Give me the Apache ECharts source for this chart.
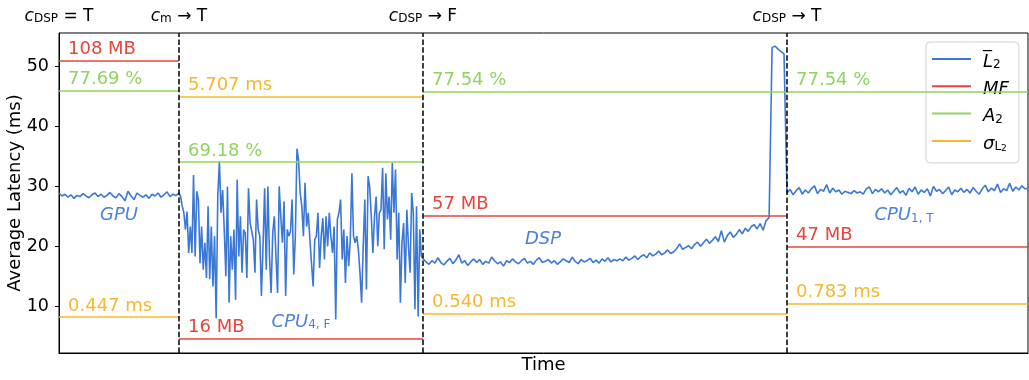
<!DOCTYPE html>
<html>
<head>
<meta charset="utf-8">
<script src="https://cdn.jsdelivr.net/npm/echarts@6/dist/echarts.min.js"></script>
<style>
  html, body { margin: 0; background: #fff; }
  #chart { width: 1029px; height: 380px; }
</style>
</head>
<body>
<div id="chart"></div>
<script>
// change points on the time axis (start of each phase, then end of run)
const boundaries = [0, 120, 364, 728, 969];
const changeLabels = [
  "{c|c}{s|DSP}{t| = T}",
  "{c|c}{s|m}{t| → T}",
  "{c|c}{s|DSP}{t| → F}",
  "{c|c}{s|DSP}{t| → T}",
];

// average latency per phase (ms)
const gpuLatency = [
  28.9, 28.4, 28.7, 28.2, 28.6, 28.0, 28.5, 28.3, 28.8, 28.4, 28.1, 28.6, 28.9, 28.3, 28.7, 28.2,
  28.5, 29.0, 28.4, 28.1, 28.8, 28.3, 27.6, 29.2, 28.4, 27.8, 28.9, 28.5, 28.2, 28.6, 28.0, 28.7,
  28.4, 28.9, 28.2, 28.6, 29.1, 28.3, 28.7, 28.5,
];
const cpu4Latency = [
  28.9, 28.3, 26.7, 25.6, 22.8, 25.8, 18.9, 23.3, 18.9, 31.9, 18.3, 29.2, 27.8, 17.2, 23.3, 16.1,
  20.6, 14.7, 26.7, 14.5, 23.3, 13.3, 21.7, 8.0, 28.3, 34.2, 25.6, 29.4, 22.8, 15.0, 30.0, 10.6,
  21.7, 16.1, 22.8, 11.1, 31.1, 18.3, 25.0, 15.6, 22.8, 22.2, 14.7, 29.7, 23.9, 23.9, 21.1, 15.6,
  27.8, 22.8, 21.7, 11.7, 20.0, 29.7, 16.1, 30.0, 18.3, 12.2, 22.2, 25.0, 18.3, 12.2, 30.0, 25.0,
  20.6, 27.5, 11.7, 22.8, 21.7, 22.5, 27.8, 15.3, 21.7, 36.3, 34.4, 28.9, 26.7, 21.7, 30.6, 23.3,
  25.6, 21.1, 21.1, 13.3, 21.1, 21.7, 25.6, 16.4, 21.7, 24.7, 17.8, 25.0, 20.0, 25.6, 21.7, 18.9,
  23.3, 7.8, 24.5, 25.6, 27.8, 17.8, 22.8, 13.9, 21.7, 16.7, 21.1, 32.2, 21.7, 20.6, 21.7, 19.5,
  15.6, 10.6, 20.0, 27.8, 12.8, 31.7, 30.0, 25.0, 18.9, 25.0, 28.3, 20.0, 25.6, 26.1, 33.1, 19.5,
  32.2, 24.5, 28.3, 21.1, 33.9, 25.6, 32.8, 17.8, 25.6, 10.6, 20.6, 23.9, 13.9, 26.1, 20.0, 15.6,
  28.9, 25.6, 9.5, 26.7, 8.3, 22.8, 18.3,
];
const dspLatency = [
  18.3, 17.4, 17.0, 17.6, 17.2, 18.1, 17.3, 16.9, 17.5, 18.0, 17.1, 17.7, 18.6, 17.2, 17.6, 16.8,
  17.4, 17.9, 17.3, 17.8, 17.0, 17.5, 17.2, 18.2, 17.6, 17.1, 17.4, 16.7, 17.6, 17.3, 17.9, 17.4,
  17.1, 17.6, 18.0, 17.2, 17.5, 17.0, 17.7, 18.1, 17.3, 17.5, 17.8, 17.2, 17.6, 17.0, 17.4, 17.9,
  17.6, 17.3, 18.2, 17.5, 17.1, 17.8, 17.4, 17.6, 18.0, 17.3, 17.7, 17.2, 17.9, 17.5, 18.1, 17.4,
  17.8, 17.6, 17.9, 17.6, 18.2, 17.7, 18.0, 18.4, 17.8, 18.3, 18.6, 18.1, 18.9, 18.4, 18.7, 19.2,
  18.6, 18.9, 19.4, 18.8, 19.1, 19.6, 20.4, 19.5, 19.8, 20.1, 19.6, 20.3, 20.7, 20.0, 20.6, 21.2,
  20.5, 21.0, 21.6, 20.8, 22.6, 20.7, 21.8, 22.4, 21.5, 22.0, 22.8, 22.1, 23.0, 22.5, 23.3, 23.6,
  22.9, 23.8, 22.7, 24.3, 24.8, 53.2, 53.4, 52.9, 52.5, 52.1,
];
const cpu1Latency = [
  28.9, 29.5, 28.6, 29.3, 29.8, 28.7, 29.4, 28.9, 29.6, 30.1, 28.8, 29.5, 29.2, 30.3, 28.9, 29.7,
  29.1, 29.4, 28.7, 29.2, 29.0, 28.8, 29.3, 28.9, 29.1, 28.7, 29.6, 29.9, 28.8, 29.5, 29.1, 29.6,
  28.9, 29.4, 28.6, 29.2, 29.8, 28.9, 29.3, 28.5, 29.7, 29.1, 29.9, 28.7, 29.4, 29.0, 29.6, 28.4,
  30.0, 29.2, 29.5, 28.8, 29.3, 29.9, 28.6, 29.4, 29.1, 29.7, 29.0, 29.5, 28.9, 29.8, 29.2, 28.7,
  29.6, 30.2, 29.1, 29.7, 29.3, 30.4, 29.0, 29.6, 29.3, 30.5, 29.2, 29.9, 29.4, 30.1, 29.6, 29.7,
];

// per-phase metrics: memory footprint, accuracy, latency std-dev
const mfValues = [51.0, 4.6, 25.1, 20.0];
const mfLabels = ["108 MB", "16 MB", "57 MB", "47 MB"];
const a2Values = [46.0, 34.1, 45.8, 45.8];
const a2Labels = ["77.69 %", "69.18 %", "77.54 %", "77.54 %"];
const sigmaValues = [8.2, 45.0, 8.8, 10.5];
const sigmaLabels = ["0.447 ms", "5.707 ms", "0.540 ms", "0.783 ms"];

// processor names written inside each phase
const phaseNames = ["GPU", "CPU{s|4, F}", "DSP", "CPU{s|1, T}"];
const phaseNamePos = [[60, 25.1], [242, 7.4], [484, 21.2], [845, 25.1]];

const yTicks = [10, 20, 30, 40, 50];

const BLUE = "#3b78d6";
const RED = "#e8453c";
const GREEN = "#8fd460";
const ORANGE = "#f5b82e";
const FONT = "DejaVu Sans";

const phases = [gpuLatency, cpu4Latency, dspLatency, cpu1Latency];
const latencyData = phases.flatMap((vals, p) => {
  const x0 = boundaries[p];
  const x1 = boundaries[p + 1];
  const last = p === phases.length - 1;
  const step = (x1 - x0) / (last ? vals.length - 1 : vals.length);
  return vals.map((v, i) => [x0 + i * step, v]);
});

const subRich = {
  i: { fontStyle: "italic", fontSize: 18, lineHeight: 24, verticalAlign: "bottom" },
  s: { fontSize: 12, lineHeight: 16, verticalAlign: "bottom" },
  ss: { fontSize: 9, lineHeight: 12, verticalAlign: "bottom" },
};

function metricSeries(name, color, values, labels) {
  return {
    name,
    type: "line",
    data: [],
    symbol: "none",
    color,
    lineStyle: { color, width: 1.6 },
    markLine: {
      silent: true,
      symbol: ["none", "none"],
      lineStyle: { color, width: 1.6, type: "solid" },
      label: {
        position: "insideStartTop",
        formatter: "{b}",
        color,
        fontSize: 18,
        fontFamily: FONT,
        distance: [9, 2],
      },
      emphasis: { disabled: true },
      data: values.map((v, i) => [
        { name: labels[i], coord: [boundaries[i], v] },
        { coord: [boundaries[i + 1], v] },
      ]),
    },
  };
}

const chart = echarts.init(document.getElementById("chart"));

chart.setOption({
  animation: false,
  textStyle: { fontFamily: FONT },
  grid: {
    left: 59,
    right: 1,
    top: 33,
    bottom: 27,
    outerBoundsMode: "none",
    show: true,
    borderColor: "#000",
    borderWidth: 1,
  },
  legend: {
    data: ["L2", "MF", "A2", "sigma"],
    left: 926,
    top: 42,
    orient: "vertical",
    icon: "rect",
    itemWidth: 39,
    itemHeight: 2,
    itemGap: 9.3,
    padding: [11, 10, 10, 6],
    backgroundColor: "rgba(255,255,255,0.8)",
    borderColor: "#d0d0d0",
    borderWidth: 1,
    borderRadius: 4,
    textStyle: { color: "#000", fontSize: 18, padding: [0, 0, 0, 7], rich: subRich },
    formatter: (name) =>
      ({
        L2: "{i|L\u0305}{s|2}",
        MF: "{i|MF}",
        A2: "{i|A}{s|2}",
        sigma: "{i|σ}{s|L}{ss|2}",
      })[name],
  },
  xAxis: {
    type: "value",
    min: boundaries[0],
    max: boundaries[boundaries.length - 1],
    name: "Time",
    nameLocation: "middle",
    nameGap: 3,
    nameTextStyle: { fontSize: 18, color: "#000" },
    axisLine: { lineStyle: { color: "#000" } },
    axisTick: { show: false },
    axisLabel: { show: false },
    splitLine: { show: false },
  },
  yAxis: {
    type: "value",
    min: 2.2,
    max: 55.6,
    name: "Average Latency (ms)",
    nameLocation: "middle",
    nameRotate: 90,
    nameGap: 35,
    nameMoveOverlap: false,
    nameTextStyle: { fontSize: 18, color: "#000" },
    axisLine: { show: true, lineStyle: { color: "#000" } },
    axisTick: { show: true, length: 4, customValues: yTicks, lineStyle: { color: "#000" } },
    axisLabel: { customValues: yTicks, fontSize: 17.5, color: "#000", margin: 10 },
    splitLine: { show: false },
  },
  series: [
    {
      name: "L2",
      type: "line",
      data: latencyData,
      symbol: "none",
      showSymbol: false,
      color: BLUE,
      lineStyle: { color: BLUE, width: 1.6 },
      z: 3,
      markPoint: {
        silent: true,
        symbol: "rect",
        symbolSize: 1,
        itemStyle: { color: "rgba(0,0,0,0)" },
        label: {
          show: true,
          position: "inside",
          formatter: "{b}",
          color: "#4a82da",
          fontSize: 18,
          fontStyle: "italic",
          fontFamily: FONT,
          rich: {
            s: { fontSize: 12, fontStyle: "normal", lineHeight: 14, verticalAlign: "bottom", color: "#4a82da" },
          },
        },
        data: phaseNames.map((n, i) => ({ name: n, coord: phaseNamePos[i] })),
      },
    },
    metricSeries("MF", RED, mfValues, mfLabels),
    metricSeries("A2", GREEN, a2Values, a2Labels),
    metricSeries("sigma", ORANGE, sigmaValues, sigmaLabels),
    {
      name: "changes",
      type: "line",
      data: [],
      markLine: {
        silent: true,
        symbol: ["none", "none"],
        lineStyle: { color: "#000", width: 1.5, type: [5.5, 2.4] },
        label: {
          position: "end",
          formatter: "{b}",
          color: "#000",
          distance: 8,
          rich: {
            c: { fontStyle: "italic", fontSize: 17, lineHeight: 22, verticalAlign: "bottom" },
            s: { fontSize: 12, lineHeight: 14, verticalAlign: "bottom" },
            t: { fontSize: 17, lineHeight: 22, verticalAlign: "bottom" },
          },
        },
        emphasis: { disabled: true },
        data: changeLabels.map((name, i) =>
          i === 0
            ? { name, xAxis: boundaries[i], lineStyle: { color: "rgba(0,0,0,0)" } }
            : { name, xAxis: boundaries[i] }
        ),
      },
    },
  ],
});
</script>
</body>
</html>
